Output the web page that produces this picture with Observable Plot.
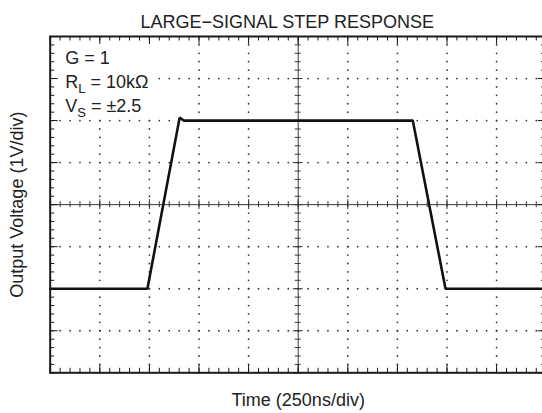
<!DOCTYPE html>
<html><head><meta charset="utf-8">
<script src="https://cdn.jsdelivr.net/npm/d3@7"></script>
<script src="https://cdn.jsdelivr.net/npm/@observablehq/plot@0.6"></script>
<style>
body{margin:0;background:#fff;overflow:hidden}
svg{font-family:"Liberation Sans",Arial,Helvetica,sans-serif}
</style>
</head><body><div id="chart"></div>
<script>
// ---- chart content ----
const title = "LARGE\u2212SIGNAL STEP RESPONSE";
const xLabel = "Time (250ns/div)";
const yLabel = "Output Voltage (1V/div)";
// annotation lines as segments (sub = subscript)
const noteG = [{t:"G = 1"}];
const noteRL = [{t:"R"},{t:"L",sub:true},{t:" = 10k\u03A9"}];
const noteVS = [{t:"V"},{t:"S",sub:true},{t:" = \u00B12.5"}];

// signal, in screen divisions (x: 250ns/div, y: 1V/div)
const timeDiv = [0, 1.96, 2.61, 2.69, 7.31, 7.97, 10];
const voltDiv = [-2, -2, 2.07, 2, 2, -2, -2];

// graticule divisions
const xDivisions = [0,1,2,3,4,5,6,7,8,9,10];
const yDivisions = [-4,-3,-2,-1,0,1,2,3,4];
const subdivisions = 5;

// ---- derived ----
const signal = timeDiv.map((t,i)=>({t, v: voltDiv[i]}));
const xMinor = d3.range(0, (xDivisions.length-1)*subdivisions+1).map(i=>xDivisions[0]+i/subdivisions);
const yMinor = d3.range(0, (yDivisions.length-1)*subdivisions+1).map(i=>yDivisions[0]+i/subdivisions);
const xMin = xDivisions[0], xMax = xDivisions[xDivisions.length-1];
const yMin = yDivisions[0], yMax = yDivisions[yDivisions.length-1];
const xMid = (xMin+xMax)/2, yMid = (yMin+yMax)/2;
const hidden = (x,y) => x <= 2.01 && y >= 2.1; // area under the annotation block
const gridDots = [];
for (const y of yDivisions) if (y!==yMin && y!==yMax && y!==yMid)
  for (const x of xMinor) if (!hidden(x,y)) gridDots.push({x,y});
for (const x of xDivisions) if (x!==xMin && x!==xMax && x!==xMid)
  for (const y of yMinor) if (!hidden(x,y)) gridDots.push({x,y});

const ink = "#1a1a1a", grid = "#3a3a3a";
const fs = 18;

const plot = Plot.plot({
  width: 542, height: 413,
  marginLeft: 49.7, marginRight: -3.7, marginTop: 36, marginBottom: 40.7,
  x: {domain: [xMin, xMax], axis: null},
  y: {domain: [yMin, yMax], axis: null},
  marks: [
    Plot.dot(gridDots, {x:"x", y:"y", r:0.9, fill:grid, stroke:null}),
    // center cross
    Plot.ruleX([xMid], {y1:yMin, y2:yMax, stroke:grid, strokeWidth:1}),
    Plot.ruleY([yMid], {x1:xMin, x2:xMax, stroke:grid, strokeWidth:1}),
    Plot.ruleX(xMinor, {y1:yMid, y2:yMid, insetTop:-3, insetBottom:-3, stroke:grid}),
    Plot.ruleX(xDivisions, {y1:yMid, y2:yMid, insetTop:-5, insetBottom:-5, stroke:grid}),
    Plot.ruleY(yMinor, {x1:xMid, x2:xMid, insetLeft:-3, insetRight:-3, stroke:grid}),
    Plot.ruleY(yDivisions, {x1:xMid, x2:xMid, insetLeft:-5, insetRight:-5, stroke:grid}),
    // edge ticks
    Plot.ruleX(xMinor, {y1:yMax, y2:yMax, insetBottom:-4.5, stroke:ink}),
    Plot.ruleX(xDivisions, {y1:yMax, y2:yMax, insetBottom:-8, stroke:ink}),
    Plot.ruleX(xMinor, {y1:yMin, y2:yMin, insetTop:-4.5, stroke:ink}),
    Plot.ruleX(xDivisions, {y1:yMin, y2:yMin, insetTop:-8, stroke:ink}),
    Plot.ruleY(yMinor, {x1:xMin, x2:xMin, insetRight:-4.5, stroke:ink}),
    Plot.ruleY(yDivisions, {x1:xMin, x2:xMin, insetRight:-8, stroke:ink}),
    Plot.ruleY(yMinor, {x1:xMax, x2:xMax, insetLeft:-4.5, stroke:ink}),
    Plot.ruleY(yDivisions, {x1:xMax, x2:xMax, insetLeft:-8, stroke:ink}),
    Plot.frame({stroke:ink, strokeWidth:2}),
    // signal
    Plot.line(signal, {x:"t", y:"v", stroke:"#111", strokeWidth:2.6, strokeLinejoin:"miter"}),
    // texts
    Plot.text([title], {frameAnchor:"top", dx:-11, dy:-21, fontSize:fs, fill:"#222"}),
    Plot.text([xLabel], {frameAnchor:"bottom", dy:33, fontSize:fs, fill:"#222"}),
    Plot.text([yLabel], {frameAnchor:"left", textAnchor:"middle", dx:-33, rotate:-90, fontSize:fs, fill:"#222"}),
    Plot.text([noteG.map(s=>s.t).join("")], {frameAnchor:"top-left", textAnchor:"start", dx:15, dy:15, fontSize:fs, fill:"#222"}),
    Plot.text([noteRL.map(s=>s.t).join("")], {frameAnchor:"top-left", textAnchor:"start", dx:15, dy:39, fontSize:fs, fill:"#222"}),
    Plot.text([noteVS.map(s=>s.t).join("")], {frameAnchor:"top-left", textAnchor:"start", dx:15, dy:63, fontSize:fs, fill:"#222"})
  ]
});
document.getElementById("chart").appendChild(plot);

// subscripts
for (const segs of [noteRL, noteVS]) {
  const full = segs.map(s=>s.t).join("");
  plot.querySelectorAll("text").forEach(el => {
    if (el.textContent !== full) return;
    el.textContent = "";
    let shifted = false;
    for (const s of segs) {
      const ts = document.createElementNS("http://www.w3.org/2000/svg","tspan");
      ts.textContent = s.t;
      if (s.sub) { ts.setAttribute("font-size", 13); ts.setAttribute("dy", 5); shifted = true; }
      else if (shifted) { ts.setAttribute("dy", -5); shifted = false; }
      el.appendChild(ts);
    }
  });
}
</script>
</body></html>
